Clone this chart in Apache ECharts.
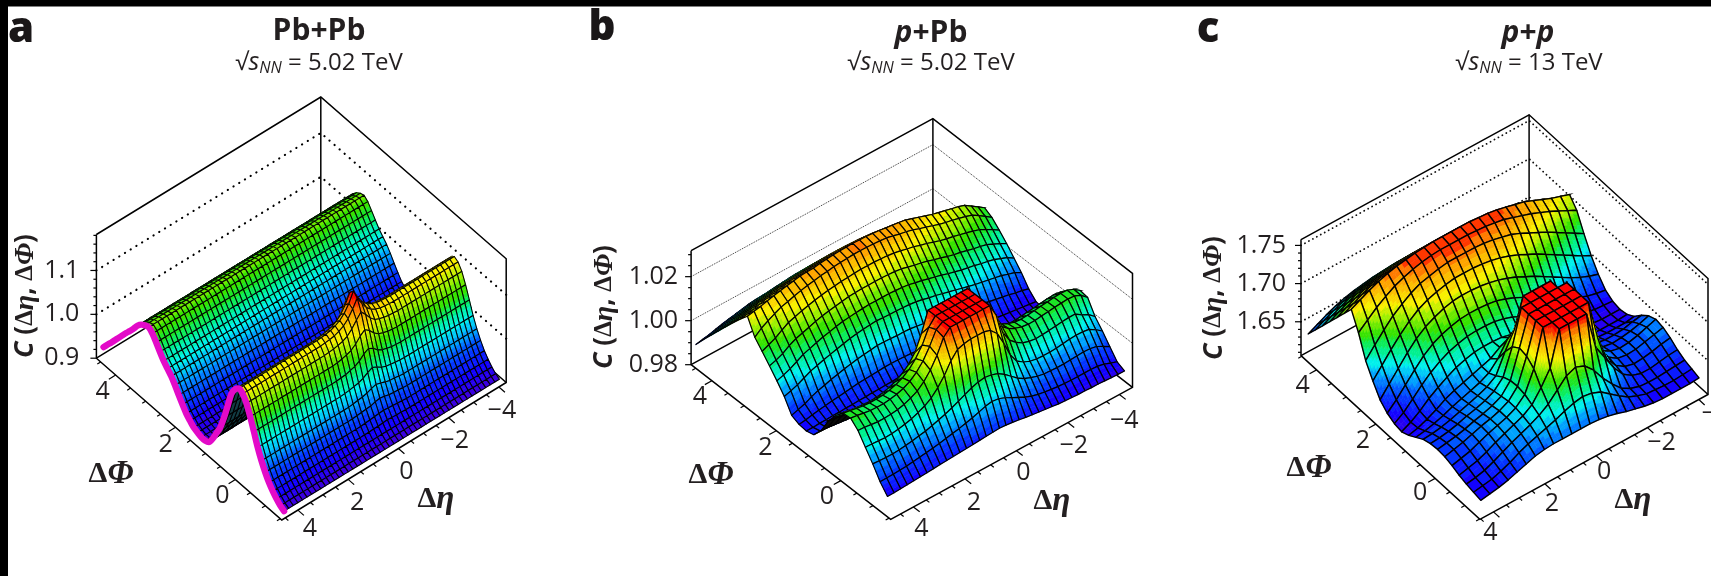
<!DOCTYPE html>
<html><head><meta charset="utf-8"><style>html,body{margin:0;padding:0;background:#fff}#c{width:1711px;height:576px}</style>
<script src="https://cdn.jsdelivr.net/npm/echarts@6.0.0/dist/echarts.min.js"></script></head><body><div id="c"></div>
<script>
// ---------- DATA ----------
const zTicksA=[0.9,1.0,1.1], zTicksB=[0.98,1.00,1.02], zTicksC=[1.65,1.70,1.75];
const zLabelsA=['0.9','1.0','1.1'], zLabelsB=['0.98','1.00','1.02'], zLabelsC=['1.65','1.70','1.75'];
const phiTicks=[4,2,0], etaTicks=[4,2,0,-2,-4];
const etaLabels=['4','2','0','\u22122','\u22124'];

// Panel a: C x 1000 along dPhi (row 0 = largest dPhi); the ridge is uniform in dEta
const aPhiProfile=[932,945,957,970,983,996,1009,1021,1034,1048,1058,1064,1067,1060,1047,1033,1020,1010,1000,987,972,958,945,936,928,924,921,921,925,940,960,980,1010,1045,1080,1098,1107,1102,1088,1065,1038,1010,987,968,952,940,930,922,917];
// Panel a: near-side jet peak, excess over the ridge (C x 1000), rows 31.., columns 18..32 of 48
const aPeakExcess=[
[0,0,0,1,2,4,7,12,7,4,2,1,0,0,0],
[0,0,1,2,4,8,14,24,14,8,4,2,1,0,0],
[0,1,2,4,8,14,24,40,24,14,8,4,2,1,0],
[0,1,3,6,11,18,32,52,32,18,11,6,3,1,0],
[1,2,4,7,13,22,38,60,38,22,13,7,4,2,1],
[1,2,4,8,14,24,40,62,40,24,14,8,4,2,1],
[1,2,4,8,14,24,40,58,40,24,14,8,4,2,1],
[1,2,4,7,12,22,36,48,36,22,12,7,4,2,1],
[0,1,3,6,10,18,30,38,30,18,10,6,3,1,0],
[0,1,2,5,8,14,24,30,24,14,8,5,2,1,0],
[0,1,2,4,6,10,17,22,17,10,6,4,2,1,0],
[0,0,1,3,4,7,11,14,11,7,4,3,1,0,0],
[0,0,1,2,3,4,7,9,7,4,3,2,1,0,0],
[0,0,0,1,2,3,4,5,4,3,2,1,0,0,0],
[0,0,0,0,1,1,2,3,2,1,1,0,0,0,0]];
const aPeakFirstRow=31, aPeakFirstCol=18, aColumns=48;

// Panel b: (C - 0.98) x 10000, 27 dPhi rows x 37 dEta columns
const bTable=[
[80,86,92,100,108,114,120,126,132,134,135,140,143,146,148,149,150,149,148,146,143,138,134,130,125,115,105,95,85,77,70,62,55,45,25,5,0],
[128,134,140,148,156,162,168,174,180,182,183,188,191,194,196,197,198,197,196,194,191,186,182,178,173,163,153,143,133,125,118,110,103,93,73,53,33],
[173,179,185,193,201,207,213,219,225,227,228,233,236,239,241,242,243,242,241,239,236,231,227,223,218,208,198,188,178,170,163,155,148,138,118,98,78],
[218,224,230,238,246,252,258,264,270,272,273,278,281,284,286,287,288,287,286,284,281,276,272,268,263,253,243,233,223,215,208,200,193,183,163,143,123],
[263,269,275,283,291,297,303,309,315,317,318,323,326,329,331,332,333,332,331,329,326,321,317,313,308,298,288,278,268,260,253,245,238,228,208,188,168],
[308,314,320,328,336,342,348,354,360,362,363,368,371,374,376,377,378,377,376,374,371,366,362,358,353,343,333,323,313,305,298,290,283,273,253,233,213],
[350,356,362,370,378,384,390,396,402,404,405,410,413,416,418,419,420,419,418,416,413,408,404,400,395,385,375,365,355,347,340,332,325,315,295,275,255],
[390,396,402,410,418,424,430,436,442,444,445,450,453,456,458,459,460,459,458,456,453,448,444,440,435,425,415,405,395,387,380,372,365,355,335,315,295],
[320,345,362,378,392,400,410,418,425,430,436,440,445,448,450,452,452,452,450,448,445,438,430,424,416,405,396,386,376,368,362,354,346,336,318,298,277],
[282,296,310,330,348,358,368,376,384,390,395,400,404,406,408,410,410,410,408,406,402,396,388,382,372,364,354,344,336,330,322,314,306,296,280,264,245],
[242,252,265,285,300,310,320,330,338,345,350,355,360,362,364,364,364,364,362,360,356,348,340,334,326,316,308,298,290,284,276,268,262,254,240,226,210],
[200,210,222,238,255,265,275,285,292,300,306,310,314,316,318,318,318,318,316,314,310,302,296,288,280,272,262,254,246,240,234,226,220,212,200,188,170],
[155,164,175,190,205,214,224,232,240,248,255,260,264,268,270,268,266,266,264,262,258,252,244,238,230,222,214,206,198,190,184,178,172,165,155,146,130],
[95,105,115,130,142,150,160,168,175,182,188,192,196,200,200,198,196,196,194,190,185,180,174,168,160,154,146,140,134,128,122,116,110,104,96,90,82],
[80,84,90,95,100,105,108,112,116,120,122,124,126,128,128,128,126,124,120,118,114,110,106,102,98,94,90,86,82,78,74,70,66,62,58,54,50],
[76,76,78,78,80,80,82,82,84,84,86,86,88,88,90,92,92,92,90,88,86,82,78,76,74,70,66,62,58,55,52,50,48,46,45,45,45],
[85,85,84,82,80,78,76,76,76,78,80,84,90,96,104,110,114,114,110,104,96,88,82,78,74,70,68,68,68,68,68,70,70,70,68,62,55],
[130,128,124,120,116,114,114,116,120,126,132,140,150,165,185,205,220,220,210,190,170,150,135,125,118,112,112,114,118,120,122,125,128,130,128,118,105],
[200,196,190,184,180,178,178,180,186,194,205,220,240,270,320,370,405,405,385,340,290,250,225,205,190,180,178,180,184,186,188,192,196,200,198,186,170],
[250,246,240,235,232,230,232,236,244,256,275,300,340,410,500,500,500,500,500,500,500,420,320,285,260,245,238,238,240,244,248,252,256,258,254,240,225],
[286,282,276,270,268,268,270,276,286,300,322,355,400,465,500,500,500,500,500,500,500,450,370,325,300,285,275,272,274,278,282,286,290,292,290,278,256],
[290,286,280,276,274,274,278,284,294,310,335,370,420,480,500,500,500,500,500,500,500,460,375,330,305,290,280,276,276,280,284,288,290,292,290,276,250],
[260,258,254,250,250,252,256,264,276,292,318,355,405,470,500,500,500,500,500,500,500,440,345,295,268,250,240,236,238,240,244,248,250,250,230,215,190],
[210,208,206,204,206,210,216,224,236,250,270,300,340,390,425,435,440,440,440,430,400,340,270,225,205,192,186,184,184,186,190,194,196,195,190,172,150],
[160,158,156,156,158,162,166,172,178,186,196,206,218,232,246,260,270,275,270,260,240,215,190,172,160,150,144,142,140,140,142,144,146,144,138,122,105],
[105,105,106,108,110,114,118,122,126,132,138,144,150,158,166,176,186,192,188,176,160,145,130,118,110,104,100,96,94,92,92,92,92,90,84,72,62],
[64,64,66,68,70,72,74,76,78,80,82,84,86,88,90,92,94,96,94,90,86,80,76,72,68,64,60,58,56,54,54,52,52,50,48,47,46]];

// Panel c: C x 1000, 25 dPhi rows x 25 dEta columns
const cTable=[
[1634,1640,1646,1651,1655,1658,1660,1662,1663,1664,1664,1664,1664,1664,1663,1662,1660,1657,1654,1651,1646,1641,1636,1632,1628],
[1648,1654,1660,1665,1669,1672,1674,1676,1677,1678,1678,1678,1678,1678,1677,1676,1674,1671,1668,1665,1660,1655,1650,1646,1642],
[1662,1668,1674,1679,1683,1686,1688,1690,1691,1692,1692,1692,1692,1692,1691,1690,1688,1685,1682,1679,1674,1669,1664,1660,1656],
[1676,1682,1688,1693,1697,1700,1702,1704,1705,1706,1706,1706,1706,1706,1705,1704,1702,1699,1696,1693,1688,1683,1678,1674,1670],
[1690,1696,1702,1707,1711,1714,1716,1718,1719,1720,1720,1720,1720,1720,1719,1718,1716,1713,1710,1707,1702,1697,1692,1688,1684],
[1704,1710,1716,1721,1725,1728,1730,1732,1733,1734,1734,1734,1734,1734,1733,1732,1730,1727,1724,1721,1716,1711,1706,1702,1698],
[1718,1724,1730,1735,1739,1742,1744,1746,1747,1748,1748,1748,1748,1748,1747,1746,1744,1741,1738,1735,1730,1725,1720,1716,1712],
[1696,1706,1716,1724,1731,1736,1740,1743,1745,1746,1746,1746,1746,1745,1744,1742,1740,1736,1732,1728,1723,1718,1712,1706,1700],
[1668,1682,1695,1707,1716,1724,1730,1733,1736,1738,1738,1738,1738,1737,1735,1732,1729,1724,1718,1712,1706,1699,1692,1685,1678],
[1650,1664,1678,1691,1702,1711,1717,1721,1724,1726,1726,1726,1725,1723,1720,1716,1711,1705,1699,1692,1685,1678,1671,1664,1658],
[1634,1648,1662,1676,1688,1697,1703,1708,1711,1712,1712,1711,1709,1706,1702,1697,1691,1685,1678,1671,1664,1657,1651,1646,1642],
[1625,1636,1649,1662,1674,1683,1689,1693,1696,1697,1697,1696,1694,1690,1685,1679,1673,1666,1659,1652,1646,1640,1635,1632,1630],
[1620,1628,1639,1651,1661,1669,1675,1679,1682,1683,1683,1682,1679,1675,1669,1663,1656,1650,1644,1638,1633,1629,1626,1625,1624],
[1618,1624,1632,1642,1650,1657,1663,1667,1670,1671,1671,1670,1667,1662,1656,1649,1643,1637,1632,1628,1625,1623,1622,1622,1622],
[1622,1625,1630,1636,1643,1648,1652,1656,1660,1664,1672,1678,1680,1678,1670,1655,1640,1632,1628,1625,1624,1623,1623,1623,1624],
[1628,1630,1633,1637,1642,1646,1650,1654,1660,1672,1690,1700,1703,1700,1688,1668,1648,1637,1632,1630,1629,1628,1628,1628,1630],
[1634,1635,1637,1640,1644,1648,1652,1657,1665,1690,1712,1750,1750,1750,1750,1715,1680,1655,1642,1636,1634,1634,1635,1638,1640],
[1637,1638,1640,1643,1647,1650,1654,1660,1672,1705,1750,1750,1750,1750,1750,1750,1700,1664,1648,1640,1638,1639,1641,1644,1648],
[1638,1640,1642,1645,1649,1652,1656,1662,1676,1712,1750,1750,1750,1750,1750,1750,1708,1668,1650,1643,1640,1641,1644,1648,1652],
[1637,1640,1643,1647,1651,1654,1658,1664,1677,1710,1750,1750,1750,1750,1750,1750,1706,1666,1650,1642,1640,1641,1644,1647,1650],
[1634,1637,1640,1645,1650,1654,1658,1664,1675,1702,1750,1750,1750,1750,1750,1750,1698,1664,1648,1640,1637,1638,1640,1643,1645],
[1630,1633,1636,1641,1647,1652,1657,1662,1670,1686,1705,1750,1750,1750,1750,1700,1680,1660,1645,1637,1633,1633,1635,1637,1638],
[1627,1629,1632,1637,1643,1649,1654,1659,1665,1673,1685,1697,1702,1697,1685,1668,1654,1642,1635,1631,1630,1630,1631,1632,1633],
[1625,1627,1629,1633,1638,1644,1649,1653,1657,1661,1666,1670,1672,1670,1665,1656,1647,1639,1634,1630,1629,1628,1628,1629,1630],
[1623,1625,1627,1630,1634,1638,1642,1644,1645,1645,1645,1645,1645,1644,1642,1639,1635,1632,1629,1627,1626,1626,1626,1626,1627]];

// ---------- tables -> C values ----------
const aValues=aPhiProfile.map((base,i)=>{const row=[];for(let j=0;j<aColumns;j++){const ex=(aPeakExcess[i-aPeakFirstRow]||[])[j-aPeakFirstCol]||0;row.push((base+ex)/1000);}return row;});
const bValues=bTable.map(r=>r.map(n=>0.98+n/10000));
const cValues=cTable.map(r=>r.map(n=>n/1000));

// ---------- LAYOUT ----------
const panels=[
{values:aValues,L:[96.4,358.2],F:[281.8,520],R:[506.2,382.5],H:123.7,zMin:0.9,zMax:1.182,
 etaT0:4.64,etaT1:-4.29,phiT0:4.644,phiT1:-1.548,etaRange:[4.55,-4.02],phiRange:[4.48,-1.548],
 colorLo:0.917,colorHi:1.162,zTicks:zTicksA,zLabels:zLabelsA,zMinor:0.02,zLabelGap:17,mesh:1.05,backFill:'#123c44',
 dot:{width:2.2,dash:[0.1,6.6],color:'#000',cap:'round'},
 phiOff:[[-13,17],[-10,18],[-13,16]],etaOff:[[12,19],[9,24],[8,23],[6,23],[3,24]]},
{values:bValues,L:[691.1,364.7],F:[890.7,519.3],R:[1132.5,387.3],H:114,zMin:0.98,zMax:1.0318,
 etaT0:4.88,etaT1:-4.51,phiT0:4.644,phiT1:-1.548,etaRange:[4.695,-4.51],phiRange:[4.644,-1.30],
 colorLo:0.983,colorHi:1.0305,zTicks:zTicksB,zLabels:zLabelsB,zMinor:0.005,zLabelGap:13,mesh:1.2,backFill:'#0a0a0a',
 dot:{width:1,dash:[1,1],color:'#333',cap:'butt'},
 phiOff:[[-12,16],[-11,17],[-14,16]],etaOff:[[8,22],[9,24],[7,22],[6,23],[5,26]]},
{values:cValues,L:[1301,355.6],F:[1479.9,519.3],R:[1708,394.5],H:116,zMin:1.6057,zMax:1.7576,
 etaT0:4.53,etaT1:-4.36,phiT0:4.526,phiT1:-1.509,etaRange:[4.356,-4.15],phiRange:[4.436,-1.388],
 colorLo:1.615,colorHi:1.75,zTicks:zTicksC,zLabels:zLabelsC,zMinor:0.01,zLabelGap:15,mesh:1.4,backFill:'#0a0a0a',
 dot:{width:1.8,dash:[0.1,4.4],color:'#111',cap:'round'},
 phiOff:[[-14,16],[-13,17],[-15,15]],etaOff:[[-3,21],[7,20],[8,16],[14,15],[17,14]]}
];
const INK='#231f20', SANS='"Open Sans","Noto Sans",sans-serif', SERIF='"Liberation Serif",serif';
const PAL=[[0,[58,0,224]],[.08,[20,0,255]],[.18,[0,60,255]],[.28,[0,150,255]],[.37,[0,240,240]],[.47,[0,240,130]],[.57,[40,225,0]],[.66,[150,240,0]],[.75,[248,240,0]],[.90,[255,150,0]],[.98,[255,20,0]],[1,[255,0,0]]];
const BANDS=24;
function bandColor(f){
  f=Math.max(0,Math.min(1,Math.floor(f*BANDS+0.5)/BANDS));
  for(let i=1;i<PAL.length;i++){ if(f<=PAL[i][0]){const a=PAL[i-1],b=PAL[i],t=(f-a[0])/(b[0]-a[0]);
    return 'rgb('+a[1].map((v,k)=>Math.round(v+(b[1][k]-v)*t)).join(',')+')';}}
  return 'rgb(255,0,0)';
}
// parallel projection of the box: (eta, phi, C) -> plot coordinates
function project(p,eta,phi,z){
  const te=(eta-p.etaT0)/(p.etaT1-p.etaT0), tp=(phi-p.phiT0)/(p.phiT1-p.phiT0);
  const h=(z-p.zMin)/(p.zMax-p.zMin)*p.H;
  return [p.L[0]+tp*(p.F[0]-p.L[0])+te*(p.R[0]-p.F[0]), p.L[1]+tp*(p.F[1]-p.L[1])+te*(p.R[1]-p.F[1])-h];
}
function etaNode(p,j){const n=p.values[0].length-1;return p.etaRange[0]+(p.etaRange[1]-p.etaRange[0])*j/n;}
function phiNode(p,i){const n=p.values.length-1;return p.phiRange[0]+(p.phiRange[1]-p.phiRange[0])*i/n;}
const silentLine=(pts,w,color,extra)=>({type:'polyline',silent:true,shape:{points:pts},style:Object.assign({stroke:color,lineWidth:w,fill:'none'},extra||{})});

function boxSeries(p){
  return {type:'custom',coordinateSystem:'cartesian2d',xAxisIndex:0,yAxisIndex:0,z:1,silent:true,clip:false,data:[[0]],animation:false,
  renderItem(params,api){
    const P=(e,f,z)=>api.coord(project(p,e,f,z));
    const e0=p.etaT0,e1=p.etaT1,f0=p.phiT0,f1=p.phiT1,lo=p.zMin,hi=p.zMax;
    const kids=[];
    const frame=[[[e0,f0,hi],[e1,f0,hi],[e1,f1,hi],[e1,f1,lo],[e0,f1,lo],[e0,f0,lo],[e0,f0,hi]],
                 [[e1,f0,hi],[e1,f0,lo]],[[e0,f0,lo],[e1,f0,lo],[e1,f1,lo]]];
    p.zTicks.forEach(z=>{ if(z>lo+1e-4){ kids.push(silentLine([P(e0,f0,z),P(e1,f0,z),P(e1,f1,z)],p.dot.width,p.dot.color,{lineDash:p.dot.dash,lineCap:p.dot.cap})); }});
    frame.forEach(s=>kids.push(silentLine(s.map(a=>P(a[0],a[1],a[2])),1.5,'#000',{lineJoin:'miter'})));
    // z ticks
    const first=Math.ceil(lo/p.zMinor-1e-6);
    for(let k=first;k*p.zMinor<=hi+1e-9;k++){
      const z=k*p.zMinor, a=P(e0,f0,z), major=p.zTicks.some(t=>Math.abs(t-z)<1e-6);
      kids.push(silentLine([a,[a[0]-(major?6:3),a[1]]],1.2,'#000'));
    }
    // phi ticks point along -E, eta ticks along +P
    const ex=p.R[0]-p.F[0],ey=p.R[1]-p.F[1],el=Math.hypot(ex,ey),px=p.F[0]-p.L[0],py=p.F[1]-p.L[1],pl=Math.hypot(px,py);
    for(let v=-1.5;v<=4.5;v+=0.5){ const a=P(e0,v,lo),M=v%2===0,l=M?8:4;
      kids.push(silentLine([a,[a[0]-ex/el*l,a[1]-ey/el*l]],1.2,'#000')); }
    for(let v=-4;v<=4.5;v+=0.5){ const a=P(v,f1,lo),M=v%2===0,l=M?8:4;
      kids.push(silentLine([a,[a[0]+px/pl*l,a[1]+py/pl*l]],1.2,'#000')); }
    return {type:'group',children:kids};
  }};
}
function surfaceSeries(p){
  const V=p.values,data=[];
  for(let r=0;r<V.length-1;r++) for(let c=V[0].length-2;c>=0;c--) data.push([r,c]);
  return {type:'custom',coordinateSystem:'cartesian2d',xAxisIndex:0,yAxisIndex:0,z:2,silent:true,clip:false,data,animation:false,progressive:0,
  renderItem(params,api){
    const r=api.value(0),c=api.value(1);
    const z=[V[r][c],V[r][c+1],V[r+1][c+1],V[r+1][c]];
    const e=[etaNode(p,c),etaNode(p,c+1)],f=[phiNode(p,r),phiNode(p,r+1)];
    const pts=[api.coord(project(p,e[0],f[0],z[0])),api.coord(project(p,e[1],f[0],z[1])),api.coord(project(p,e[1],f[1],z[2])),api.coord(project(p,e[0],f[1],z[3]))];
    const area=(pts[2][0]-pts[0][0])*(pts[3][1]-pts[1][1])-(pts[2][1]-pts[0][1])*(pts[3][0]-pts[1][0]);
    const kids=[];
    if(area<=0){
      kids.push({type:'polygon',silent:true,shape:{points:pts},style:{fill:p.backFill,stroke:'#000',lineWidth:p.mesh}});
      return {type:'group',children:kids};
    }
    const span=p.colorHi-p.colorLo, frac=v=>(v-p.colorLo)/span;
    const nv=Math.min(14,Math.max(1,Math.ceil(Math.max(Math.abs(z[0]-z[3]),Math.abs(z[1]-z[2]))/span*BANDS*1.5)));
    const nu=Math.min(6,Math.max(1,Math.ceil(Math.max(Math.abs(z[0]-z[1]),Math.abs(z[3]-z[2]))/span*BANDS*1.5)));
    const bl=(a,s,t)=>(a[0]*(1-s)+a[1]*s)*(1-t)+(a[3]*(1-s)+a[2]*s)*t;
    const bp=(s,t)=>[(pts[0][0]*(1-s)+pts[1][0]*s)*(1-t)+(pts[3][0]*(1-s)+pts[2][0]*s)*t,(pts[0][1]*(1-s)+pts[1][1]*s)*(1-t)+(pts[3][1]*(1-s)+pts[2][1]*s)*t];
    for(let a=0;a<nu;a++) for(let b=0;b<nv;b++){
      const col=bandColor(frac(bl(z,(a+.5)/nu,(b+.5)/nv)));
      kids.push({type:'polygon',silent:true,shape:{points:[bp(a/nu,b/nv),bp((a+1)/nu,b/nv),bp((a+1)/nu,(b+1)/nv),bp(a/nu,(b+1)/nv)]},style:{fill:col,stroke:col,lineWidth:0.6}});
    }
    kids.push({type:'polygon',silent:true,shape:{points:pts},style:{fill:'none',stroke:'#000',lineWidth:p.mesh,lineJoin:'round'}});
    return {type:'group',children:kids};
  }};
}
function labelSeries(p){
  return {type:'custom',coordinateSystem:'cartesian2d',xAxisIndex:0,yAxisIndex:0,z:3,silent:true,clip:false,data:[[0]],animation:false,
  renderItem(params,api){
    const kids=[];
    const txt=(q,s,al)=>kids.push({type:'text',silent:true,x:q[0],y:q[1],style:{text:s,fill:INK,font:'25px '+SANS,align:al||'center',verticalAlign:'middle'}});
    p.zTicks.forEach((z,k)=>{const a=api.coord(project(p,p.etaT0,p.phiT0,z));txt([a[0]-p.zLabelGap,a[1]],p.zLabels[k],'right');});
    phiTicks.forEach((v,k)=>{const a=project(p,p.etaT0,v,p.zMin);txt(api.coord([a[0]+p.phiOff[k][0],a[1]+p.phiOff[k][1]]),String(v));});
    etaTicks.forEach((v,k)=>{const a=project(p,v,p.phiT1,p.zMin);txt(api.coord([a[0]+p.etaOff[k][0],a[1]+p.etaOff[k][1]]),etaLabels[k]);});
    return {type:'group',children:kids};
  }};
}
// pink profile of panel a
const pa=panels[0];
const pinkData=aPhiProfile.map((v,i)=>project(pa,etaNode(pa,0),phiNode(pa,i),v/1000));

// ---------- text ----------
const RICH={
 r:{font:'24px '+SANS,fill:INK}, s:{font:'italic 25px '+SANS,fill:INK},
 n:{font:'italic 16px '+SANS,fill:INK,padding:[10,0,0,0]},
 tb:{font:'bold 30px '+SANS,fill:INK}, ti:{font:'italic bold 30px '+SANS,fill:INK},
 yb:{font:'bold 26px '+SANS,fill:INK}, yi:{font:'italic bold 27px '+SANS,fill:INK},
 yg:{font:'italic bold 28px '+SERIF,fill:INK}, yd:{font:'bold 25px '+SERIF,fill:INK},
 xg:{font:'italic bold 33px '+SERIF,fill:INK}, xd:{font:'bold 30px '+SERIF,fill:INK}
};
const T=(x,y,text,extra)=>Object.assign({type:'text',x,y,silent:true,style:{text,rich:RICH,align:'center',verticalAlign:'middle',fill:INK}},extra||{});
const ATXT=(g)=>'{yd|\u0394}{yg|'+g+'}';
const XTXT=(g)=>'{xd|\u0394}{xg|'+g+'}';
const YT='{yi|C}{yb| (}'+ATXT('\u03b7')+'{yb|, }'+ATXT('\u03a6')+'{yb|)}';
const letter=(x,y,s)=>({type:'text',x,y,silent:true,style:{text:s,font:'900 42px '+SANS,fill:'#1a1718',align:'center',verticalAlign:'middle'}});
const graphic=[
 {type:'rect',shape:{x:0,y:0,width:1711,height:6.5},style:{fill:'#000'},silent:true},
 {type:'rect',shape:{x:0,y:0,width:8,height:576},style:{fill:'#000'},silent:true},
 letter(21,30,'a'),letter(602,28,'b'),letter(1208,30,'c'),
 T(319,31,'{tb|Pb+Pb}'),T(319,63,'{r|\u221a}{s|s}{n|NN}{r| = 5.02 TeV}'),
 T(931,33,'{ti|p}{tb|+Pb}'),T(931,63,'{r|\u221a}{s|s}{n|NN}{r| = 5.02 TeV}'),
 T(1528,33,'{ti|p}{tb|+}{ti|p}'),T(1529,63,'{r|\u221a}{s|s}{n|NN}{r| = 13 TeV}'),
 T(25.5,296,YT,{rotation:Math.PI/2}),T(604.5,307,YT,{rotation:Math.PI/2}),T(1214,298,YT,{rotation:Math.PI/2}),
 T(111,474,XTXT('\u03a6')),T(436,499,XTXT('\u03b7')),
 T(711,475,XTXT('\u03a6')),T(1052,501,XTXT('\u03b7')),
 T(1309,468,XTXT('\u03a6')),T(1633,500,XTXT('\u03b7'))
];
const series=[];
panels.forEach(p=>{series.push(boxSeries(p),surfaceSeries(p),labelSeries(p));});
series.push({type:'line',data:pinkData,symbol:'none',smooth:0.3,silent:true,clip:false,z:4,animation:false,
 lineStyle:{color:'#e30ac8',width:6.4,cap:'round',join:'round'}});

const chart=echarts.init(document.getElementById('c'),null,{renderer:'canvas',width:1711,height:576});
chart.setOption({
 animation:false,backgroundColor:'#fff',tooltip:{show:false},
 grid:{left:0,top:0,right:0,bottom:0},
 xAxis:{type:'value',min:0,max:1711,show:false},
 yAxis:{type:'value',min:0,max:576,inverse:true,show:false},
 graphic:{elements:graphic},
 series
});
</script></body></html>
